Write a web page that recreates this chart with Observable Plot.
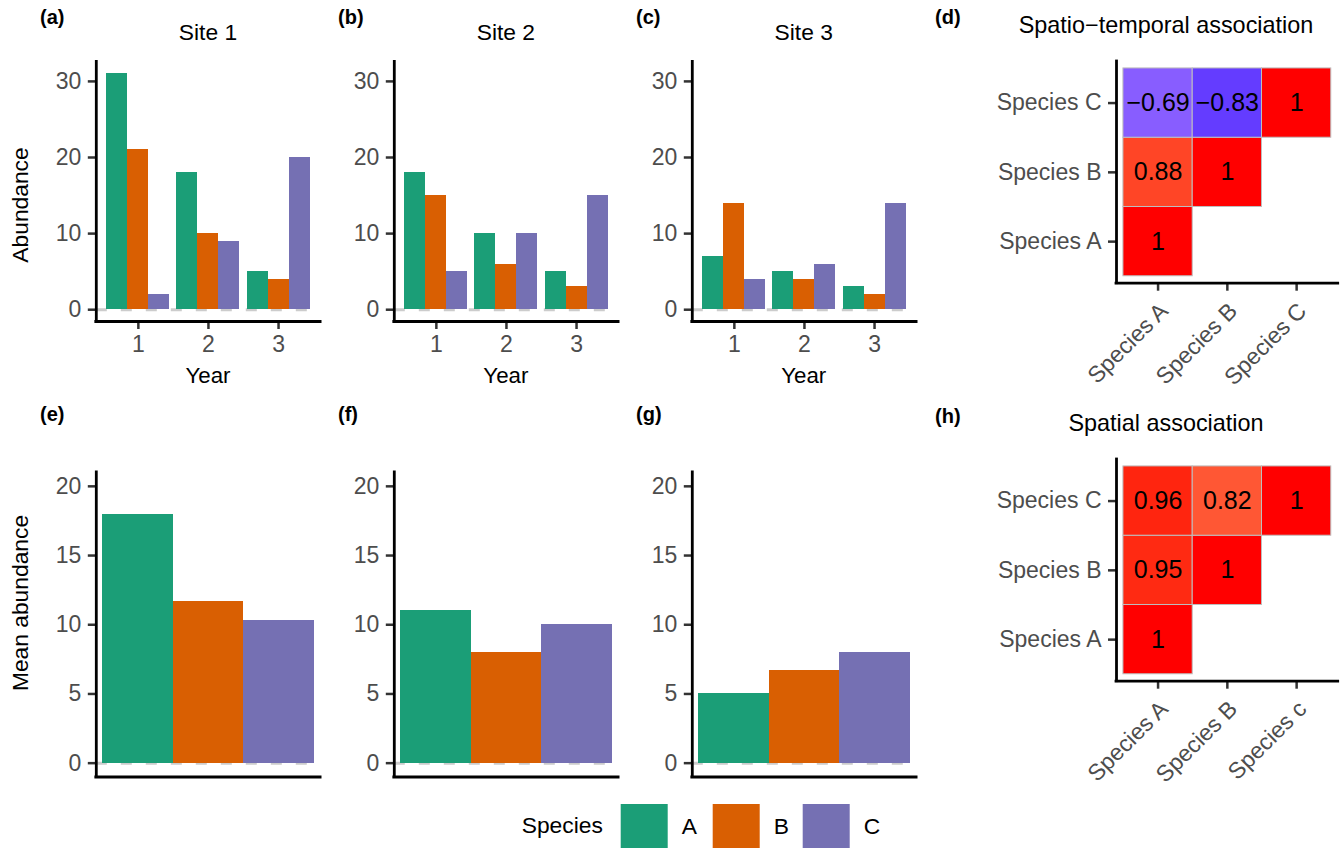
<!DOCTYPE html>
<html>
<head>
<meta charset="utf-8">
<script src="https://cdn.jsdelivr.net/npm/d3@7"></script>
<script src="https://cdn.jsdelivr.net/npm/@observablehq/plot@0.6"></script>
<style>
html, body { margin: 0; padding: 0; background: #fff; overflow: hidden; }
#root { position: relative; width: 1343px; height: 848px; font-family: "Liberation Sans", Arial, Helvetica, sans-serif; }
</style>
</head>
<body>
<div id="root"></div>
<script>
// ---------------- data ----------------
const speciesKeys = ["A", "B", "C"];
const speciesColors = ["#1B9E77", "#D95F02", "#7570B3"];
const years = [1, 2, 3];
const siteNames = ["Site 1", "Site 2", "Site 3"];
// abundance[species][year]
const site1Abundance = [[31, 18, 5], [21, 10, 4], [2, 9, 20]];
const site2Abundance = [[18, 10, 5], [15, 6, 3], [5, 10, 15]];
const site3Abundance = [[7, 5, 3], [14, 4, 2], [4, 6, 14]];
// mean abundance per species
const site1Mean = [18, 11.67, 10.33];
const site2Mean = [11, 8, 10];
const site3Mean = [5, 6.67, 8];
const abundanceTicks = [0, 10, 20, 30];
const meanTicks = [0, 5, 10, 15, 20];
const meanLimits = [0, 20];
// correlation matrices (lower triangle): [column, row, value]
const heatRowLabels = ["Species A", "Species B", "Species C"];
const stColLabels = ["Species A", "Species B", "Species C"];
const spColLabels = ["Species A", "Species B", "Species c"];
const stCorr = [["A", "A", 1], ["A", "B", 0.88], ["B", "B", 1], ["A", "C", -0.69], ["B", "C", -0.83], ["C", "C", 1]];
const spCorr = [["A", "A", 1], ["A", "B", 0.95], ["B", "B", 1], ["A", "C", 0.96], ["B", "C", 0.82], ["C", "C", 1]];
const stTitle = "Spatio\u2212temporal association";
const spTitle = "Spatial association";
const topLetters = ["(a)", "(b)", "(c)", "(d)"];
const bottomLetters = ["(e)", "(f)", "(g)", "(h)"];

// ---------------- layout ----------------
const FONT = '"Liberation Sans", Arial, Helvetica, sans-serif';
const root = document.getElementById("root");
const baseStyle = {fontFamily: FONT, fontSize: "23px", background: "transparent", overflow: "visible"};
const ML = 95.8, PW = 224.3, SVGW = 330, STEP = 297.9;
const TICKFS = 23;
const tickStyle = {tickSize: 8, strokeWidth: 2.5, stroke: "#333333", fill: "#4D4D4D", fontSize: TICKFS, label: null};
const axisLine = {stroke: "#000", strokeWidth: 2.8, strokeLinecap: "square"};
const zeroLine = {stroke: "#cccccc", strokeWidth: 3, strokeDasharray: "11,14"};

function place(node, left, top) {
  node.style.position = "absolute";
  node.style.left = left + "px";
  node.style.top = top + "px";
  root.appendChild(node);
}

const allTop = [site1Abundance, site2Abundance, site3Abundance];
const maxTop = d3.max(allTop.flat(2));
const yTopDom = [-0.05 * maxTop, maxTop * 1.05];

function topPanel(abund) {
  const rows = [];
  speciesKeys.forEach((s, si) => years.forEach((yr, yi) => rows.push({species: s, si, year: yr, value: abund[si][yi]})));
  const xDom = [years[0] - 0.6, years[years.length - 1] + 0.6];
  return Plot.plot({
    width: SVGW, height: 400,
    marginLeft: ML, marginRight: SVGW - ML - PW, marginTop: 61.5, marginBottom: 79,
    x: {domain: xDom},
    y: {domain: yTopDom},
    color: {domain: speciesKeys, range: speciesColors},
    style: baseStyle,
    marks: [
      Plot.ruleY([0], zeroLine),
      Plot.rect(rows, {
        x1: d => d.year + (d.si - 1.5) * 0.3,
        x2: d => d.year + (d.si - 0.5) * 0.3,
        y1: 0, y2: "value", fill: "species", shapeRendering: "crispEdges"
      }),
      Plot.axisY({...tickStyle, ticks: abundanceTicks, tickPadding: 7}),
      Plot.axisX({...tickStyle, ticks: years, tickPadding: 6, tickFormat: d => String(d)}),
      Plot.ruleX([xDom[0]], axisLine),
      Plot.ruleY([yTopDom[0]], axisLine)
    ]
  });
}

function bottomPanel(means) {
  const rows = speciesKeys.map((s, si) => ({species: s, si, value: means[si]}));
  const xDom = [-0.0875, speciesKeys.length + 0.0875];
  const yDom = [meanLimits[0] - 0.05 * meanLimits[1], meanLimits[1] * 1.05];
  return Plot.plot({
    width: SVGW, height: 400,
    marginLeft: ML, marginRight: SVGW - ML - PW, marginTop: 72, marginBottom: 23.5,
    x: {domain: xDom, axis: null},
    y: {domain: yDom},
    color: {domain: speciesKeys, range: speciesColors},
    style: baseStyle,
    marks: [
      Plot.ruleY([0], zeroLine),
      Plot.rect(rows, {x1: d => d.si, x2: d => d.si + 1, y1: 0, y2: "value", fill: "species", shapeRendering: "crispEdges"}),
      Plot.axisY({...tickStyle, ticks: meanTicks, tickPadding: 7}),
      Plot.ruleX([xDom[0]], axisLine),
      Plot.ruleY([yDom[0]], axisLine)
    ]
  });
}

const fmt = d3.format("");
function heatPanel(cells, colLabels, mt) {
  const rows = cells.map(([c, r, v]) => ({ci: speciesKeys.indexOf(c) + 1, ri: speciesKeys.indexOf(r) + 1, value: v}));
  const dom = [0.4, 3.6];
  const H = 400;
  const pw = 221.7;
  const idx = [1, 2, 3];
  return Plot.plot({
    width: 383, height: H,
    marginLeft: 156, marginRight: 383 - 156 - pw, marginTop: mt, marginBottom: H - mt - pw,
    x: {domain: dom},
    y: {domain: dom},
    color: {type: "linear", domain: [-1, 0, 1], range: ["blue", "white", "red"], interpolate: d3.interpolateLab},
    style: baseStyle,
    marks: [
      Plot.rect(rows, {x1: d => d.ci - 0.5, x2: d => d.ci + 0.5, y1: d => d.ri - 0.5, y2: d => d.ri + 0.5,
        fill: "value", stroke: "#bebebe", strokeWidth: 1}),
      Plot.text(rows, {x: "ci", y: "ri", text: d => fmt(d.value), fontSize: 25, fill: "#000"}),
      Plot.axisY({...tickStyle, ticks: idx, tickPadding: 7, tickFormat: i => heatRowLabels[i - 1]}),
      // tick marks only
      Plot.axisX({...tickStyle, ticks: idx, tickFormat: () => ""}),
      // rotated tick labels only
      Plot.axisX({...tickStyle, ticks: idx, tickSize: 0, tickPadding: 12, tickRotate: -45, dx: 6, dy: 12,
        tickFormat: i => colLabels[i - 1]}),
      Plot.ruleX([dom[0]], axisLine),
      Plot.ruleY([dom[0]], axisLine)
    ]
  });
}

allTop.forEach((a, i) => place(topPanel(a), i * STEP, 0));
[site1Mean, site2Mean, site3Mean].forEach((m, i) => place(bottomPanel(m), i * STEP, 400));
place(heatPanel(stCorr, stColLabels, 61), 960, 0);
place(heatPanel(spCorr, spColLabels, 59), 960, 400);

// ---------------- overlay text & legend ----------------
const svg = d3.select(root).append("svg")
  .attr("width", 1343).attr("height", 848)
  .style("position", "absolute").style("left", "0px").style("top", "0px")
  .style("font-family", FONT);

function txt(s, x, y, size, opts = {}) {
  const t = svg.append("text").attr("x", x).attr("y", y).attr("font-size", size)
    .attr("fill", opts.fill || "#000").attr("text-anchor", opts.anchor || "start").text(s);
  if (opts.bold) t.attr("font-weight", "bold");
  if (opts.rotate) t.attr("transform", `rotate(${opts.rotate},${x},${y})`);
  return t;
}

const letterX = [40, 338, 636, 935];
topLetters.forEach((l, i) => txt(l, letterX[i], 24, 20, {bold: true}));
bottomLetters.forEach((l, i) => txt(l, letterX[i], i === 3 ? 423 : 421, 20, {bold: true}));
siteNames.forEach((s, i) => {
  const cx = i * STEP + ML + PW / 2;
  txt(s, cx, 40, 22.8, {anchor: "middle"});
  txt("Year", cx, 383, 22.3, {anchor: "middle"});
});
txt(stTitle, 1166, 32.5, 23.4, {anchor: "middle"});
txt(spTitle, 1166, 431, 23.4, {anchor: "middle"});
txt("Abundance", 28, 205, 22.8, {anchor: "middle", rotate: -90});
txt("Mean abundance", 28, 603, 22.8, {anchor: "middle", rotate: -90});

// legend
txt("Species", 521.7, 833, 22.8);
const swX = [620.7, 712.7, 802.7];
speciesKeys.forEach((s, i) => {
  svg.append("rect").attr("x", swX[i]).attr("y", 804).attr("width", 47).attr("height", 44).attr("fill", speciesColors[i]);
  txt(s, swX[i] + 61, 834, 22.8);
});
</script>
</body>
</html>
